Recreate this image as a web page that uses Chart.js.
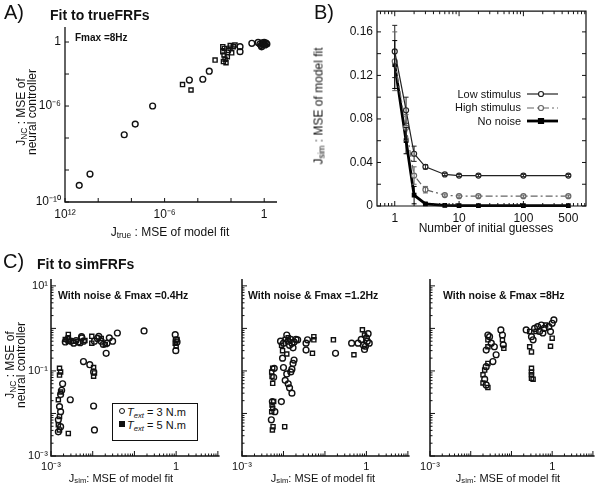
<!DOCTYPE html>
<html><head><meta charset="utf-8">
<script src="https://cdn.jsdelivr.net/npm/chart.js@4.4.0/dist/chart.umd.min.js"></script>
<style>
html,body{margin:0;padding:0;background:#fff}
body{width:600px;height:490px;position:relative;overflow:hidden;font-family:"Liberation Sans",Arial,sans-serif;color:#111}
canvas{position:absolute}
.t{position:absolute;white-space:nowrap;line-height:1}
.b{font-weight:bold}
.rot{position:absolute;white-space:nowrap;transform:translate(-50%,-50%) rotate(-90deg);text-align:center;line-height:11px}
.ctr{position:absolute;white-space:nowrap;transform:translate(-50%,-50%);line-height:1}
sub{font-size:70%;vertical-align:-0.25em;line-height:0}
.leg{position:absolute;border:1.2px solid #111;background:#fff;font-size:11px}
.leg div{position:absolute;left:14px;white-space:nowrap;line-height:1}
.mk{position:absolute;left:6px;width:4px;height:4px;border:1.3px solid #111}
</style></head><body>
<canvas id="cA" width="290" height="240" style="left:0;top:0"></canvas>
<canvas id="cB" width="300" height="240" style="left:300px;top:0"></canvas>
<canvas id="cC1" width="225" height="230" style="left:0;top:260px"></canvas>
<canvas id="cC2" width="190" height="230" style="left:225px;top:260px"></canvas>
<canvas id="cC3" width="185" height="230" style="left:415px;top:260px"></canvas>

<div class="t" style="left:4px;top:2px;font-size:20px">A)</div>
<div class="t b" style="left:50px;top:8px;font-size:14px">Fit to trueFRFs</div>
<div class="t b" style="left:75px;top:33px;font-size:10px">Fmax =8Hz</div>
<div class="rot" style="left:27px;top:112px;font-size:12px">J<sub>NC</sub> : MSE of<br>neural controller</div>
<div class="ctr" style="left:170px;top:232px;font-size:12px">J<sub>true</sub> : MSE of model fit</div>

<div class="t" style="left:314px;top:2px;font-size:20px">B)</div>
<div class="rot" style="left:319px;top:106px;font-size:12px">J<sub>sim</sub> : MSE of model fit</div>
<div class="ctr" style="left:486px;top:228px;font-size:12px">Number of initial guesses</div>
<div class="t" style="right:79px;top:89px;font-size:11px">Low stimulus</div>
<div class="t" style="right:79px;top:102px;font-size:11px">High stimulus</div>
<div class="t" style="right:79px;top:116px;font-size:11px">No noise</div>

<div class="t" style="left:3px;top:251px;font-size:20px">C)</div>
<div class="t b" style="left:37px;top:257px;font-size:14px">Fit to simFRFs</div>
<div class="t b" style="left:58px;top:290px;font-size:10.5px">With noise &amp; Fmax =0.4Hz</div>
<div class="t b" style="left:248px;top:290px;font-size:10.5px">With noise &amp; Fmax =1.2Hz</div>
<div class="t b" style="left:443px;top:290px;font-size:10.5px">With noise &amp; Fmax =8Hz</div>
<div class="rot" style="left:16px;top:365px;font-size:12px">J<sub>NC</sub> : MSE of<br>neural controller</div>
<div class="ctr" style="left:121px;top:478px;font-size:11px">J<sub>sim</sub>: MSE of model fit</div>
<div class="ctr" style="left:323px;top:478px;font-size:11px">J<sub>sim</sub>: MSE of model fit</div>
<div class="ctr" style="left:508px;top:478px;font-size:11px">J<sub>sim</sub>: MSE of model fit</div>
<div class="leg" style="left:112px;top:403px;width:84px;height:36px">
  <span class="mk" style="top:4px;border-radius:50%"></span><div style="top:3px"><i>T</i><sub><i>ext</i></sub> = 3 N.m</div>
  <span class="mk" style="top:17px;background:#111"></span><div style="top:16px"><i>T</i><sub><i>ext</i></sub> = 5 N.m</div>
</div>

<script>
Chart.defaults.font.family = '"Liberation Sans", Arial, sans-serif';
Chart.defaults.font.size = 12;
Chart.defaults.color = '#111';
Chart.defaults.animation = false;

// ---------- Panel A : fit to true FRFs ----------
const aCircles = [[7.2e-12,1.1e-9],[3.2e-11,5.6e-9],[3.7e-9,1.6e-6],[1.7e-8,7.4e-6],[1.9e-7,1.0e-4],
  [3.1e-5,4.2e-3],[2.0e-4,4.7e-3],[4.9e-4,1.5e-2],[0.035,0.51],[0.035,0.25],[0.18,0.83],
  [0.43,0.95],[0.55,0.75],[0.65,0.6],[0.75,0.9],[0.85,0.7],[0.95,0.8],[1.1,0.65],[1.3,0.85],[1.45,0.75],[0.7,0.5],[1.0,0.95]];
const aSquares = [[1.2e-5,2.2e-3],[3.9e-5,1e-3],[1.1e-3,0.075],[0.0032,0.51],[0.0032,0.25],[0.0038,0.155],
  [0.0044,0.083],[0.005,0.051],[0.0087,0.41],[0.0138,0.51],[0.011,0.21],[0.0069,0.3],[0.0174,0.65],
  [0.004,0.4],[0.006,0.12],[0.009,0.6],[0.0035,0.06]];
const aXTicks = [1e-12, 1e-6, 1];
const aXTickLabels = ['10¹²','10⁻⁶','1'];
const aYTicks = [1, 1e-4, 1e-10];
const aYTickLabels = ['1','10⁻⁶','10⁻¹⁰'];
const aXTickMarks = [1e-12,1e-10,1e-8,1e-6,1e-4,1e-2,1];
const aYTickMarks = [1,1e-2,1e-4,1e-6,1e-8,1e-10];

// ---------- Panel B : number of initial guesses ----------
const bGuesses  = [1, 1.5, 2, 3, 6, 10, 20, 100, 500];
const bLow      = [0.142, 0.088, 0.048, 0.036, 0.029, 0.028, 0.028, 0.028, 0.028];
const bLowErr   = [0.024, 0.012, 0.007, 0.002, 0.001, 0.001, 0.001, 0.001, 0.001];
const bHigh     = [0.133, 0.072, 0.028, 0.015, 0.010, 0.009, 0.009, 0.009, 0.009];
const bHighErr  = [0.027, 0.012, 0.008, 0.003, 0.001, 0.001, 0.001, 0.001, 0.001];
const bNoNoise  = [0.130, 0.060, 0.010, 0.002, 0.0005, 0.0003, 0.0003, 0.0003, 0.0003];
const bNoNoiseErr = [0.022, 0.012, 0.008, 0.001, 0, 0, 0, 0, 0];
const bXTicks = [1, 10, 100, 500];
const bXTickLabels = ['1','10','100','500'];
const bYTicks = [0, 0.04, 0.08, 0.12, 0.16];
const bYTickLabels = ['0','0.04','0.08','0.12','0.16'];

// ---------- Panel C : fit to sim FRFs ----------
const c1T3 = [[0.0018,0.035],[0.0017,0.028],[0.0016,0.0145],[0.0017,0.011],[0.0015,0.0071],[0.0017,0.0049],[0.0015,0.0037],
  [0.0019,0.05],[0.0029,0.021],[0.0022,0.48],[0.0025,0.55],[0.003,0.5],[0.0035,0.45],[0.004,0.52],[0.0045,0.48],[0.005,0.46],
  [0.0055,0.6],[0.006,0.5],[0.0054,0.64],[0.006,0.166],[0.0085,0.14],[0.0105,0.095],[0.0105,0.015],[0.011,0.0041],
  [0.011,0.5],[0.013,0.58],[0.014,0.65],[0.016,0.5],[0.018,0.42],[0.021,0.26],[0.022,0.45],[0.025,0.6],[0.03,0.5],
  [0.039,0.78],[0.17,0.87],[0.95,0.71],[1.0,0.54],[1.05,0.48],[0.98,0.3]];
const c1T5 = [[0.0016,0.115],[0.0017,0.095],[0.0016,0.08],[0.0017,0.032],[0.0015,0.021],[0.0016,0.0085],[0.0015,0.0054],
  [0.0016,0.0041],[0.0026,0.0034],[0.0026,0.72],[0.0026,0.6],[0.0026,0.5],[0.0022,0.55],[0.0035,0.5],[0.0065,0.52],
  [0.0095,0.65],[0.0095,0.45],[0.0105,0.12],[0.011,0.09],[0.0105,0.075],[0.016,0.58],[0.02,0.42],[0.95,0.45],[1.0,0.38],[1.05,0.55]];
const c2T3 = [[0.006,0.115],[0.0058,0.071],[0.0054,0.019],[0.0062,0.011],[0.0051,0.0071],[0.0089,0.019],[0.0085,0.5],
  [0.01,0.45],[0.012,0.7],[0.013,0.5],[0.014,0.4],[0.015,0.55],[0.016,0.45],[0.017,0.35],[0.018,0.48],[0.02,0.55],
  [0.0095,0.2],[0.01,0.12],[0.011,0.06],[0.012,0.085],[0.013,0.05],[0.014,0.04],[0.015,0.095],[0.016,0.03],[0.017,0.15],
  [0.018,0.18],[0.016,0.11],[0.022,0.54],[0.035,0.45],[0.038,0.54],[0.035,0.31],[0.18,0.26],[0.44,0.45],[0.63,0.45],
  [0.75,0.55],[0.85,0.4],[0.9,0.32],[1.0,0.6],[1.05,0.5],[1.1,0.75],[1.17,0.45],[0.95,0.38]];
const c2T5 = [[0.0055,0.115],[0.0052,0.095],[0.0053,0.074],[0.0055,0.051],[0.0058,0.019],[0.0053,0.0158],[0.0055,0.0132],
  [0.0052,0.011],[0.0056,0.0049],[0.0054,0.0041],[0.0107,0.0049],[0.0095,0.3],[0.011,0.55],[0.009,0.4],[0.013,0.6],
  [0.012,0.25],[0.054,0.64],[0.054,0.54],[0.05,0.26],[0.16,0.54],[0.5,0.24],[0.8,0.93],[0.9,0.7]];
const c3T3 = [[0.0264,0.70],[0.029,0.64],[0.032,0.45],[0.024,0.31],[0.038,0.37],[0.042,0.24],[0.035,0.166],[0.024,0.126],
  [0.022,0.064],[0.024,0.047],[0.055,0.92],[0.06,0.70],[0.063,0.41],[0.23,0.92],[0.31,0.64],[0.34,0.54],[0.37,1.0],
  [0.44,1.1],[0.54,1.2],[0.63,1.0],[0.83,1.1],[1.0,1.32],[1.1,1.58],[0.49,0.85],[0.59,0.78],[0.91,0.84]];
const c3T5 = [[0.0264,0.54],[0.0264,0.37],[0.0264,0.15],[0.022,0.105],[0.02,0.081],[0.02,0.052],[0.0264,0.041],[0.06,0.54],
  [0.065,0.34],[0.31,0.115],[0.31,0.095],[0.31,0.081],[0.31,0.067],[0.34,0.064],[0.28,0.85],[0.28,0.37],[0.31,0.28],
  [0.69,1.2],[0.40,0.85],[1.0,0.59],[0.91,0.38]];
const cXTicks = [1e-3, 1];
const cXTickLabels = ['10⁻³','1'];
const cYTicks = [1e-3, 1e-1, 10];
const cYTickLabels = ['10⁻³','10⁻¹','10¹'];

// ---------- helpers ----------
function logMajor(lo, hi){ const o=[]; for(let e=lo;e<=hi;e++) o.push(Math.pow(10,e)); return o; }
function logMinor(lo, hi){ const o=[]; for(let e=lo;e<hi;e++) for(let k=2;k<=9;k++) o.push(k*Math.pow(10,e)); return o; }
function marks(vals, len){ return vals.map(v=>[v,len]); }
function pts(arr){ return arr.map(p=>({x:p[0], y:p[1]})); }

function axis(type, min, max, ticks, labels, opt){
  const o = {type, min, max, bounds:'data',
    grid:{display:false, drawTicks:false}, border:{display:false},
    ticks:{display: opt.show !== false, padding: opt.pad, autoSkip:false, maxRotation:0,
      font:{size: opt.size||12}, callback:(v,i)=>labels[i]},
    afterBuildTicks: s => { s.ticks = ticks.map(v=>({value:v})); }
  };
  if (opt.w != null) o.afterFit = s => { s.width = opt.w; };
  if (opt.h != null) o.afterFit = s => { s.height = opt.h; };
  return o;
}

const framePlugin = {
  id:'frame',
  afterDatasetsDraw(chart, args, o){
    const {ctx, chartArea:a} = chart; const xs = chart.scales.x, ys = chart.scales.y;
    ctx.save(); ctx.strokeStyle = '#111'; ctx.lineWidth = o.lw || 1.3; ctx.setLineDash([]);
    ctx.beginPath();
    if (o.box) { ctx.rect(a.left, a.top, a.right-a.left, a.bottom-a.top); }
    else { ctx.moveTo(a.left, a.top); ctx.lineTo(a.left, a.bottom); ctx.lineTo(a.right, a.bottom); }
    ctx.stroke();
    ctx.lineWidth = 1;
    ctx.beginPath();
    (o.xt||[]).forEach(([v,l]) => { if (v < xs.min*0.999 || v > xs.max*1.001) return; const p = xs.getPixelForValue(v);
      ctx.moveTo(p, a.bottom); ctx.lineTo(p, a.bottom-l); if (o.box) { ctx.moveTo(p, a.top); ctx.lineTo(p, a.top+l); } });
    (o.yt||[]).forEach(([v,l]) => { if (v < ys.min - 1e-12 || v > ys.max*1.001) return; const p = ys.getPixelForValue(v);
      ctx.moveTo(a.left, p); ctx.lineTo(a.left+l, p); if (o.box) { ctx.moveTo(a.right, p); ctx.lineTo(a.right-l, p); } });
    ctx.stroke(); ctx.restore();
  }
};
const errPlugin = {
  id:'errbars',
  afterDatasetsDraw(chart){
    const {ctx} = chart; const xs = chart.scales.x, ys = chart.scales.y;
    chart.data.datasets.forEach(ds => {
      if (!ds.errs) return;
      ctx.save(); ctx.strokeStyle = ds.borderColor; ctx.lineWidth = 1; ctx.setLineDash([]);
      ds.data.forEach((p,i) => { const e = ds.errs[i]; if (!e) return;
        const x = xs.getPixelForValue(p.x), y1 = ys.getPixelForValue(p.y+e), y0 = ys.getPixelForValue(Math.max(0,p.y-e));
        ctx.beginPath(); ctx.moveTo(x,y0); ctx.lineTo(x,y1);
        ctx.moveTo(x-2.5,y0); ctx.lineTo(x+2.5,y0); ctx.moveTo(x-2.5,y1); ctx.lineTo(x+2.5,y1); ctx.stroke(); });
      ctx.restore();
    });
  }
};
const legendB = {
  id:'legendB',
  afterDraw(chart){
    const ctx = chart.ctx; const rows = [94, 108, 121]; const x0 = 227, x1 = 258;
    chart.data.datasets.forEach((ds, i) => {
      const y = rows[i];
      ctx.save(); ctx.strokeStyle = ds.borderColor; ctx.lineWidth = ds.borderWidth; ctx.setLineDash(ds.borderDash||[]);
      ctx.beginPath(); ctx.moveTo(x0,y); ctx.lineTo(x1,y); ctx.stroke(); ctx.setLineDash([]);
      const mx = 241; ctx.lineWidth = 1.2; ctx.fillStyle = ds.pointBackgroundColor;
      ctx.beginPath();
      if (ds.pointStyle === 'rect') ctx.rect(mx-2.5, y-2.5, 5, 5); else ctx.arc(mx, y, 2.5, 0, Math.PI*2);
      ctx.fill(); ctx.stroke(); ctx.restore();
    });
  }
};

function scatterSet(data, style){
  return {data: pts(data), pointStyle: style, pointRadius: 2.9, borderWidth: 1.4,
    borderColor:'#111', backgroundColor:'rgba(0,0,0,0)', showLine:false, clip:false};
}

// ---------- Panel A chart ----------
new Chart(document.getElementById('cA'), {
  type:'scatter',
  data:{datasets:[scatterSet(aCircles,'circle'), scatterSet(aSquares,'rect')]},
  options:{responsive:false, animation:false,
    layout:{padding:{left:0, top:27, right:13, bottom:0}},
    plugins:{legend:{display:false}, tooltip:{enabled:false},
      frame:{box:false, xt:marks(aXTickMarks,4), yt:marks(aYTickMarks,4)}},
    scales:{
      x: axis('logarithmic', 1e-12, 5.9, aXTicks, aXTickLabels, {h:38, pad:5}),
      y: axis('logarithmic', 1e-10, 8.7, aYTicks, aYTickLabels, {w:65, pad:4})
    }},
  plugins:[framePlugin]
});

// ---------- Panel B chart ----------
function lineSet(vals, errs, color, width, dash, style, fill){
  return {data: bGuesses.map((x,i)=>({x, y: vals[i]})), errs, showLine:true, borderColor: color, borderWidth: width,
    borderDash: dash, pointStyle: style, pointRadius: 2.5, pointBorderWidth: 1.2, pointBorderColor: color,
    pointBackgroundColor: fill, backgroundColor: fill, clip:false};
}
new Chart(document.getElementById('cB'), {
  type:'scatter',
  data:{datasets:[
    lineSet(bLow, bLowErr, '#222', 1.2, [], 'circle', '#fff'),
    lineSet(bHigh, bHighErr, '#666', 1.2, [7,3,2,3], 'circle', '#fff'),
    lineSet(bNoNoise, bNoNoiseErr, '#000', 2.8, [], 'rect', '#000')
  ]},
  options:{responsive:false, animation:false,
    layout:{padding:{left:0, top:10, right:14, bottom:0}},
    plugins:{legend:{display:false}, tooltip:{enabled:false},
      frame:{box:true, lw:1.2,
        xt: marks(logMajor(0,2),5).concat(marks([0.6,0.7,0.8,0.9].concat(logMinor(0,3)),3)),
        yt: marks([0,0.02,0.04,0.06,0.08,0.10,0.12,0.14,0.16],4)}},
    scales:{
      x: axis('logarithmic', 0.53, 940, bXTicks, bXTickLabels, {h:34, pad:5}),
      y: axis('linear', 0, 0.179, bYTicks, bYTickLabels, {w:77, pad:4})
    }},
  plugins:[framePlugin, errPlugin, legendB]
});

// ---------- Panel C charts ----------
function makeC(id, t3, t5, yw, rightPad, showY){
  new Chart(document.getElementById(id), {
    type:'scatter',
    data:{datasets:[scatterSet(t3,'circle'), scatterSet(t5,'rect')]},
    options:{responsive:false, animation:false,
      layout:{padding:{left:0, top:19, right:rightPad, bottom:0}},
      plugins:{legend:{display:false}, tooltip:{enabled:false},
        frame:{box:false, lw:1.5,
          xt: marks(logMajor(-3,1),5).concat(marks(logMinor(-3,1),2.5)),
          yt: marks(logMajor(-3,1),5).concat(marks(logMinor(-3,2),2.5))}},
      scales:{
        x: axis('logarithmic', 1e-3, 11, cXTicks, cXTickLabels, {h:34, pad:4, size:11}),
        y: axis('logarithmic', 1e-3, 14.5, cYTicks, cYTickLabels, {w:yw, pad:3, size:11, show:showY})
      }},
    plugins:[framePlugin]
  });
}
makeC('cC1', c1T3, c1T5, 51, 3, true);
makeC('cC2', c2T3, c2T5, 17, 3, false);
makeC('cC3', c3T3, c3T5, 15, 0, false);
</script>
</body></html>
